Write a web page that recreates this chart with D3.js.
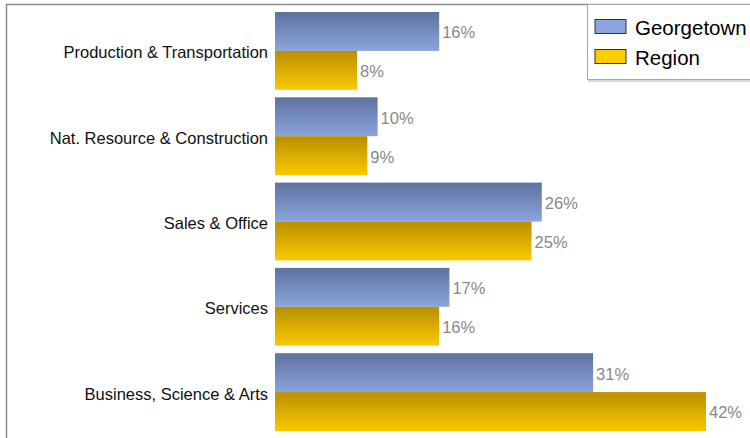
<!DOCTYPE html>
<html>
<head>
<meta charset="utf-8">
<script src="https://cdn.jsdelivr.net/npm/d3@7"></script>
<style>
  body { margin: 0; background: #fff; }
  svg { display: block; font-family: "Liberation Sans", Arial, sans-serif; }
</style>
</head>
<body>
<div id="chart"></div>
<script>
var categories = ['Production & Transportation', 'Nat. Resource & Construction',
                  'Sales & Office', 'Services', 'Business, Science & Arts'];
var seriesNames = ['Georgetown', 'Region'];
var georgetown = [16, 10, 26, 17, 31];
var region = [8, 9, 25, 16, 42];

(function() {
    var W = 750, H = 438;
    var svg = d3.select('#chart').append('svg')
	.attr('width', W).attr('height', H);

    var defs = svg.append('defs');
    var grads = [
	{ id: 'g0', top: '#5f729f', bottom: '#8aa5de', solid: '#8aa5dd' },
	{ id: 'g1', top: '#b88f00', bottom: '#fac900', solid: '#ffcc00' },
    ];
    grads.forEach(function(g) {
	var lg = defs.append('linearGradient').attr('id', g.id)
	    .attr('x1', 0).attr('y1', 0).attr('x2', 0).attr('y2', 1);
	lg.append('stop').attr('offset', '0%').attr('stop-color', g.top);
	lg.append('stop').attr('offset', '100%').attr('stop-color', g.bottom);
    });

    // frame
    svg.append('path')
	.attr('d', 'M6.5,' + H + 'V4.5H' + W)
	.attr('fill', 'none')
	.attr('stroke', '#8c8c8c')
	.attr('stroke-width', 1.5);

    var x = d3.scaleLinear().domain([0, 42]).range([275, 706]);
    var y = d3.scaleBand().domain(categories)
	.range([8.25, 434.75]).paddingInner(0.088).paddingOuter(0.044);
    var ys = d3.scaleBand().domain(seriesNames).range([0, y.bandwidth()]);

    var rows = categories.map(function(c, i) {
	return { cat: c, vals: [georgetown[i], region[i]] };
    });

    var grp = svg.selectAll('g.row')
	.data(rows)
	.enter()
	.append('g')
	.attr('class', 'row')
	.attr('transform', function(d) { return 'translate(0,' + y(d.cat) + ')' });

    grp.selectAll('rect')
	.data(function(d) { return d.vals })
	.enter()
	.append('rect')
	.attr('x', x(0))
	.attr('y', function(v, j) { return ys(seriesNames[j]) })
	.attr('width', function(v) { return x(v) - x(0) })
	.attr('height', ys.bandwidth())
	.attr('fill', function(v, j) { return 'url(#' + grads[j].id + ')' });

    grp.selectAll('text.val')
	.data(function(d) { return d.vals })
	.enter()
	.append('text')
	.attr('class', 'val')
	.attr('x', function(v) { return x(v) + 3 })
	.attr('y', function(v, j) { return ys(seriesNames[j]) + ys.bandwidth() / 2 })
	.attr('dy', '0.42em')
	.attr('font-size', '16.5px')
	.attr('fill', '#888')
	.text(function(v) { return v + '%' });

    grp.append('text')
	.attr('x', x(0) - 7)
	.attr('y', y.bandwidth() / 2)
	.attr('dy', '0.45em')
	.attr('text-anchor', 'end')
	.attr('font-size', '16.5px')
	.attr('fill', '#111')
	.text(function(d) { return d.cat });

    // legend
    var lg = svg.append('g').attr('transform', 'translate(587,4)');
    lg.append('rect')
	.attr('x', 1).attr('y', 1).attr('width', 170).attr('height', 77)
	.attr('fill', '#d8d8d8');
    lg.append('rect')
	.attr('x', 0.5).attr('y', 0.5).attr('width', 170).attr('height', 75)
	.attr('fill', '#fff').attr('stroke', '#a8a8a8');
    var items = lg.selectAll('g.item')
	.data(seriesNames)
	.enter()
	.append('g')
	.attr('class', 'item')
	.attr('transform', function(d, i) { return 'translate(8,' + (15.5 + i * 30) + ')' });
    items.append('rect')
	.attr('width', 31).attr('height', 14)
	.attr('fill', function(d, i) { return grads[i].solid })
	.attr('stroke', '#333');
    items.append('text')
	.attr('x', 40).attr('y', 7)
	.attr('dy', '0.4em')
	.attr('font-size', '20.5px')
	.attr('fill', '#000')
	.text(function(d) { return d });
})();
</script>
</body>
</html>
